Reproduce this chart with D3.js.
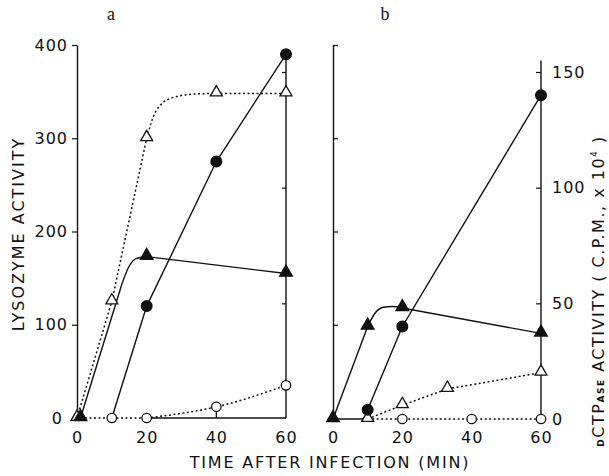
<!DOCTYPE html>
<html>
<head>
<meta charset="utf-8">
<script src="https://cdn.jsdelivr.net/npm/d3@7"></script>
<style>
  body { margin: 0; background: #fff; }
  svg { display: block; font-family: "DejaVu Sans", sans-serif; }
</style>
</head>
<body>
<svg id="chart"></svg>
<script>
// time ticks (min)
const timeTicks = [0, 20, 40, 60]
const lysoTicks = [0, 100, 200, 300, 400]
const dctpTicks = [0, 50, 100, 150]

// panel a: lysozyme activity, markers [min, value]
const aOpenTri = [[0, 0], [10, 125], [20, 300], [40, 348], [60, 348]]
const aFilledTri = [[1, 0], [20, 173], [60, 155]]
const aFilledCircle = [[20, 120], [40, 275], [60, 390]]
const aOpenCircle = [[10, 0], [20, 0], [40, 12], [60, 35]]
// panel a: drawn lines, straight parts and bends
const aOpenTriStraight = [[0, 0], [10, 125], [20, 300]]
const aOpenTriBend = [[20, 300], [22.5, 328], [27, 343], [34, 347.5], [40, 348], [60, 348]]
const aFilledTriStraight = [[1, 0], [13, 145]]
const aFilledTriBend = [[13, 145], [15, 163], [17, 171], [20, 173]]
const aFilledTriTail = [[20, 173], [60, 155]]
const aFilledCircleLine = [[10, 0], [20, 120], [40, 275], [60, 390]]
const aOpenCircleFlat = [[1, 0], [10, 0], [20, 0]]
const aOpenCircleBend = [[20, 0], [30, 5], [40, 12], [60, 35]]

// panel b: dCTPase activity (c.p.m. x10^4), markers [min, value]
const bFilledTri = [[0, 0], [10, 40], [20, 48], [60, 37]]
const bFilledCircle = [[10, 4], [20, 40], [60, 140]]
const bOpenTri = [[10, 0], [20, 6], [33, 13], [60, 20]]
const bOpenCircle = [[20, 0], [40, 0], [60, 0]]
const bFilledTriStraight = [[0, 0], [10, 40]]
const bFilledTriBend = [[10, 40], [12, 45.5], [14.5, 48.3], [17, 48.6], [20, 48]]
const bFilledTriTail = [[20, 48], [60, 37]]
const bFilledCircleLine = [[10, 4], [20, 40], [60, 140]]
const bOpenTriLine = [[10, 0], [20, 6], [33, 13], [60, 20]]
const bOpenCircleLine = [[10, 0], [20, 0], [40, 0], [60, 0]]
const bBaseLine = [[0, 0], [10, 0]]

let width = 609
let height = 476
let svg = d3.select('#chart')
  .attr('width', width)
  .attr('height', height)

let xA = d3.scaleLinear().domain([0, 60]).range([77, 286])
let xB = d3.scaleLinear().domain([0, 60]).range([333, 541])
let yL = d3.scaleLinear().domain([0, 400]).range([418, 45])
let yR = d3.scaleLinear().domain([0, 150]).range([419, 72])

const ink = '#111'

function styleAxis(g) {
  g.select('.domain').attr('stroke', ink).attr('stroke-width', 1.4)
  g.selectAll('.tick line').attr('stroke', ink).attr('stroke-width', 1.2)
  g.selectAll('.tick text').attr('fill', ink).style('font-size', '16px').style('letter-spacing', '1px')
    .style('font-family', '"DejaVu Sans", sans-serif')
}

// panel a left axis
let axA = svg.append('g')
  .attr('transform', `translate(${xA(0)},0)`)
  .call(d3.axisLeft(yL).tickValues(lysoTicks).tickSize(5).tickSizeOuter(0).tickPadding(4))
  .call(styleAxis)
axA.selectAll('.tick').filter(d => d === 0).select('line').remove()
axA.selectAll('.tick').filter(d => d === 0).select('text').attr('x', -14)

// panel a right line, ticks on dCTPase scale
let axA2 = svg.append('g')
  .attr('transform', `translate(${xA(60)},0)`)
  .call(d3.axisLeft(yR).tickValues([50, 100, 150]).tickSize(4).tickSizeOuter(0).tickFormat(''))
  .call(styleAxis)
axA2.select('.domain').attr('d', `M0,${yL(0)}V${yL(390)}`)

// panel b left axis (lysozyme scale, no labels)
svg.append('g')
  .attr('transform', `translate(${xB(0)},0)`)
  .call(d3.axisRight(yL).tickValues([100, 200, 300, 400]).tickSize(5).tickSizeOuter(0).tickFormat(''))
  .call(styleAxis)

// panel b right axis
let axB = svg.append('g')
  .attr('transform', `translate(${xB(60)},0)`)
  .call(d3.axisLeft(yR).tickValues(dctpTicks).tickSize(5).tickSizeOuter(0))
  .call(styleAxis)
axB.select('.domain').attr('d', `M0,${yR(1.5)}V${yR(155)}`)
axB.selectAll('.tick').filter(d => d === 0).select('line').remove()
axB.selectAll('.tick text').attr('text-anchor', 'start').attr('x', 11)

// x tick labels (no axis line)
function xLabels(scale) {
  let g = svg.append('g')
    .attr('transform', `translate(0,${yL(0)})`)
    .call(d3.axisBottom(scale).tickValues(timeTicks).tickSize(0).tickPadding(14))
    .call(styleAxis)
  g.select('.domain').remove()
}
xLabels(xA)
xLabels(xB)

// baseline pieces in panel a
svg.append('path')
  .attr('d', d3.line().x(d => xA(d[0])).y(d => yL(d[1]))([[20, 0], [60, 0]]))
  .attr('fill', 'none').attr('stroke', ink).attr('stroke-width', 1.4)
svg.append('path')
  .attr('d', d3.line().x(d => xA(d[0])).y(d => yL(d[1]))([[40, 0], [40, 12]]))
  .attr('fill', 'none').attr('stroke', ink).attr('stroke-width', 1.3)

function drawLine(data, xs, ys, dotted, curved) {
  let line = d3.line()
    .x(d => xs(d[0]))
    .y(d => ys(d[1]))
    .curve(curved ? d3.curveMonotoneX : d3.curveLinear)
  svg.append('path')
    .attr('d', line(data))
    .attr('fill', 'none')
    .attr('stroke', ink)
    .attr('stroke-width', dotted ? 1.5 : 1.4)
    .attr('stroke-dasharray', dotted ? '2,2.5' : null)
}

drawLine(aOpenTriStraight, xA, yL, true, false)
drawLine(aOpenTriBend, xA, yL, true, true)
drawLine(aFilledTriStraight, xA, yL, false, false)
drawLine(aFilledTriBend, xA, yL, false, true)
drawLine(aFilledTriTail, xA, yL, false, false)
drawLine(aFilledCircleLine, xA, yL, false, false)
drawLine(aOpenCircleFlat, xA, yL, true, false)
drawLine(aOpenCircleBend, xA, yL, true, true)

drawLine(bFilledTriStraight, xB, yR, false, false)
drawLine(bFilledTriBend, xB, yR, false, true)
drawLine(bFilledTriTail, xB, yR, false, false)
drawLine(bFilledCircleLine, xB, yR, false, false)
drawLine(bOpenTriLine, xB, yR, true, false)
drawLine(bOpenCircleLine, xB, yR, true, false)
drawLine(bBaseLine, xB, yR, false, false)

function drawMarkers(data, xs, ys, shape, filled) {
  let sym = shape === 'tri'
    ? d3.symbol().type(d3.symbolTriangle).size(filled ? 70 : 62)
    : d3.symbol().type(d3.symbolCircle).size(filled ? 90 : 70)
  svg.append('g')
    .selectAll('path')
    .data(data)
    .enter()
    .append('path')
    .attr('d', sym)
    .attr('transform', d => `translate(${xs(d[0])},${ys(d[1]) - (shape === 'tri' ? 1 : 0)})`)
    .attr('fill', filled ? ink : '#fff')
    .attr('stroke', ink)
    .attr('stroke-width', 1.3)
}

drawMarkers(aOpenTri, xA, yL, 'tri', false)
drawMarkers(aOpenCircle, xA, yL, 'circle', false)
drawMarkers(aFilledTri, xA, yL, 'tri', true)
drawMarkers(aFilledCircle, xA, yL, 'circle', true)

drawMarkers(bOpenTri, xB, yR, 'tri', false)
drawMarkers(bOpenCircle, xB, yR, 'circle', false)
drawMarkers(bFilledTri, xB, yR, 'tri', true)
drawMarkers(bFilledCircle, xB, yR, 'circle', true)

// panel letters
svg.append('text').text('a')
  .attr('x', 111).attr('y', 20)
  .style('font-family', '"Liberation Serif", serif').style('font-size', '18px')
  .attr('text-anchor', 'middle').attr('fill', ink)
svg.append('text').text('b')
  .attr('x', 385).attr('y', 20)
  .style('font-family', '"Liberation Serif", serif').style('font-size', '18px')
  .attr('text-anchor', 'middle').attr('fill', ink)

// axis titles
svg.append('text').text('TIME AFTER INFECTION (MIN)')
  .attr('x', 330).attr('y', 468)
  .attr('text-anchor', 'middle')
  .style('font-size', '16px').style('letter-spacing', '1.8px').attr('fill', ink)

svg.append('text').text('LYSOZYME ACTIVITY')
  .attr('transform', 'translate(24,234) rotate(-90)')
  .attr('text-anchor', 'middle')
  .style('font-size', '16px').style('letter-spacing', '2px').attr('fill', ink)

let rt = svg.append('text')
  .attr('transform', 'translate(604,291) rotate(-90)')
  .attr('text-anchor', 'middle')
  .style('font-size', '16px').style('letter-spacing', '1.5px').attr('fill', ink)
rt.append('tspan').text('D').style('font-size', '9px').style('font-weight', 'bold')
rt.append('tspan').text('CTP')
rt.append('tspan').text('ASE').style('font-size', '9px').style('font-weight', 'bold')
rt.append('tspan').text(' ACTIVITY ( C.P.M., x 10')
rt.append('tspan').text('4').style('font-size', '9px').attr('dy', -7)
rt.append('tspan').text(' )').attr('dy', 7)
</script>
</body>
</html>
